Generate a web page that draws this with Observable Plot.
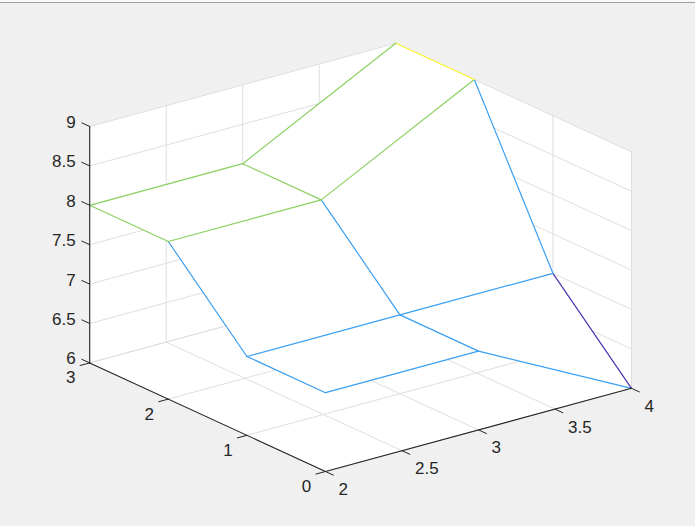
<!DOCTYPE html>
<html>
<head>
<meta charset="utf-8">
<script src="https://cdn.jsdelivr.net/npm/d3@7"></script>
<script src="https://cdn.jsdelivr.net/npm/@observablehq/plot@0.6"></script>
<style>
html,body{margin:0;padding:0;background:#f0f0f0;overflow:hidden}
#topbar{height:2px;background:#f8f8f8;border-bottom:1px solid #a0a0a0;position:absolute;left:0;right:0;top:0}
svg{display:block;background:#f0f0f0}
</style>
</head>
<body>
<div id="chart"></div>
<div id="topbar"></div>
<script>
// Surface data: z[yIndex][xIndex]
const xValues = [2, 3, 4];
const yValues = [0, 1, 2, 3];
const zRows = [
  [7, 7, 6],
  [7, 7, 7],
  [8, 8, 9],
  [8, 8, 9]
];
const xTicks = [2, 2.5, 3, 3.5, 4];
const yTicks = [0, 1, 2, 3];
const zTicks = [6, 6.5, 7, 7.5, 8, 8.5, 9];
const zColors = {6: "#4a35b0", 7: "#3a9ff2", 8: "#8ad160", 9: "#fbf52a"};

// Orthographic view of the 3-D box onto the page
const view = {ox: 325, oy: 471, xx: 153, xy: -41.6, yx: -78.6, yy: -36.2, zy: -78.8};
const px = (x, y) => view.ox + (x - 2) * view.xx + y * view.yx;
const py = (x, y, z) => view.oy + (x - 2) * view.xy + y * view.yy + (z - 6) * view.zy;
const pt = (x, y, z) => ({X: px(x, y), Y: py(x, y, z)});
const poly = (id, pts) => pts.map(p => ({id, ...pt(...p)}));

const [x0, x1] = d3.extent(xTicks), [y0, y1] = d3.extent(yTicks), [z0, z1] = d3.extent(zTicks);

// Back planes
const walls = [
  ...poly("floor", [[x0,y0,z0],[x1,y0,z0],[x1,y1,z0],[x0,y1,z0]]),
  ...poly("wallY", [[x0,y1,z0],[x1,y1,z0],[x1,y1,z1],[x0,y1,z1]]),
  ...poly("wallX", [[x1,y0,z0],[x1,y1,z0],[x1,y1,z1],[x1,y0,z1]])
];

// Grid lines
const grid = [
  ...xTicks.flatMap(x => poly("gx" + x, [[x,y0,z0],[x,y1,z0],[x,y1,z1]])),
  ...yTicks.flatMap(y => poly("gy" + y, [[x0,y,z0],[x1,y,z0],[x1,y,z1]])),
  ...zTicks.flatMap(z => poly("gz" + z, [[x0,y1,z],[x1,y1,z],[x1,y0,z]]))
];

// Faces painted far to near, then their edges
const faces = [], edges = [];
for (let j = yValues.length - 2; j >= 0; j--) {
  for (let i = xValues.length - 2; i >= 0; i--) {
    const c = [[i,j],[i+1,j],[i+1,j+1],[i,j+1]];
    faces.push({key: `f${i}-${j}`, pts: c.map(([a,b]) => pt(xValues[a], yValues[b], zRows[b][a]))});
  }
}
yValues.forEach((y, j) => xValues.forEach((x, i) => {
  if (i < xValues.length - 1) edges.push({a: [i,j], b: [i+1,j]});
  if (j < yValues.length - 1) edges.push({a: [i,j], b: [i,j+1]});
}));
const cellOrder = faces.map(f => f.key);
const faceRows = faces.flatMap(f => f.pts.map(p => ({id: f.key, ...p})));
const edgeRows = edges.flatMap((e, n) => {
  const [ai, aj] = e.a, [bi, bj] = e.b;
  const color = zColors[zRows[aj][ai]];
  return [
    {id: n, color, ...pt(xValues[ai], yValues[aj], zRows[aj][ai])},
    {id: n, color, ...pt(xValues[bi], yValues[bj], zRows[bj][bi])}
  ];
});

const ink = "#262626";
const axes = [
  ...poly("ax", [[x0,y0,z0],[x1,y0,z0]]),
  ...poly("ay", [[x0,y0,z0],[x0,y1,z0]]),
  ...poly("az", [[x0,y1,z0],[x0,y1,z1]])
];
const tickLen = {x: 0.1, y: 0.0625, z: 0.1};
const tickRows = [
  ...xTicks.flatMap(x => poly("tx" + x, [[x,y0,z0],[x,y0 - tickLen.x,z0]])),
  ...yTicks.flatMap(y => poly("ty" + y, [[x0,y,z0],[x0 - tickLen.y,y,z0]])),
  ...zTicks.flatMap(z => poly("tz" + z, [[x0,y1,z],[x0,y1 + tickLen.z,z]]))
];

const font = {fontFamily: "Liberation Sans, Arial, sans-serif", fontSize: 17, fill: ink};
const xLabelRows = xTicks.map(v => ({v, ...pt(v, y0, z0)}));
const yLabelRows = yTicks.map(v => ({v, ...pt(x0, v, z0)}));
const zLabelRows = zTicks.map(v => ({v, ...pt(x0, y1, v)}));

const chart = Plot.plot({
  width: 695, height: 526, margin: 0,
  x: {domain: [0, 695], range: [0, 695], axis: null},
  y: {domain: [0, 526], range: [0, 526], axis: null},
  style: {background: "#f0f0f0"},
  marks: [
    Plot.line(walls, {x: "X", y: "Y", z: "id", fill: "white", stroke: "none", curve: "linear-closed"}),
    Plot.line(grid, {x: "X", y: "Y", z: "id", stroke: "#dfdfdf", strokeWidth: 1}),
    ...cellOrder.map(k => Plot.line(faceRows.filter(d => d.id === k), {x: "X", y: "Y", fill: "white", stroke: "none", curve: "linear-closed"})),
    Plot.line(edgeRows, {x: "X", y: "Y", z: "id", stroke: "color", strokeWidth: 1.2}),
    Plot.line(tickRows, {x: "X", y: "Y", z: "id", stroke: ink, strokeWidth: 1}),
    Plot.line(axes, {x: "X", y: "Y", z: "id", stroke: ink, strokeWidth: 1.1}),
    Plot.text(xLabelRows, {x: "X", y: "Y", text: d => String(d.v), textAnchor: "start", dx: 13, dy: 18, ...font}),
    Plot.text(yLabelRows, {x: "X", y: "Y", text: d => String(d.v), textAnchor: "middle", dx: -19, dy: 15, ...font}),
    Plot.text(zLabelRows, {x: "X", y: "Y", text: d => String(d.v), textAnchor: "end", dx: -14, dy: -4, ...font})
  ]
});
document.getElementById("chart").append(chart);
</script>
</body>
</html>
